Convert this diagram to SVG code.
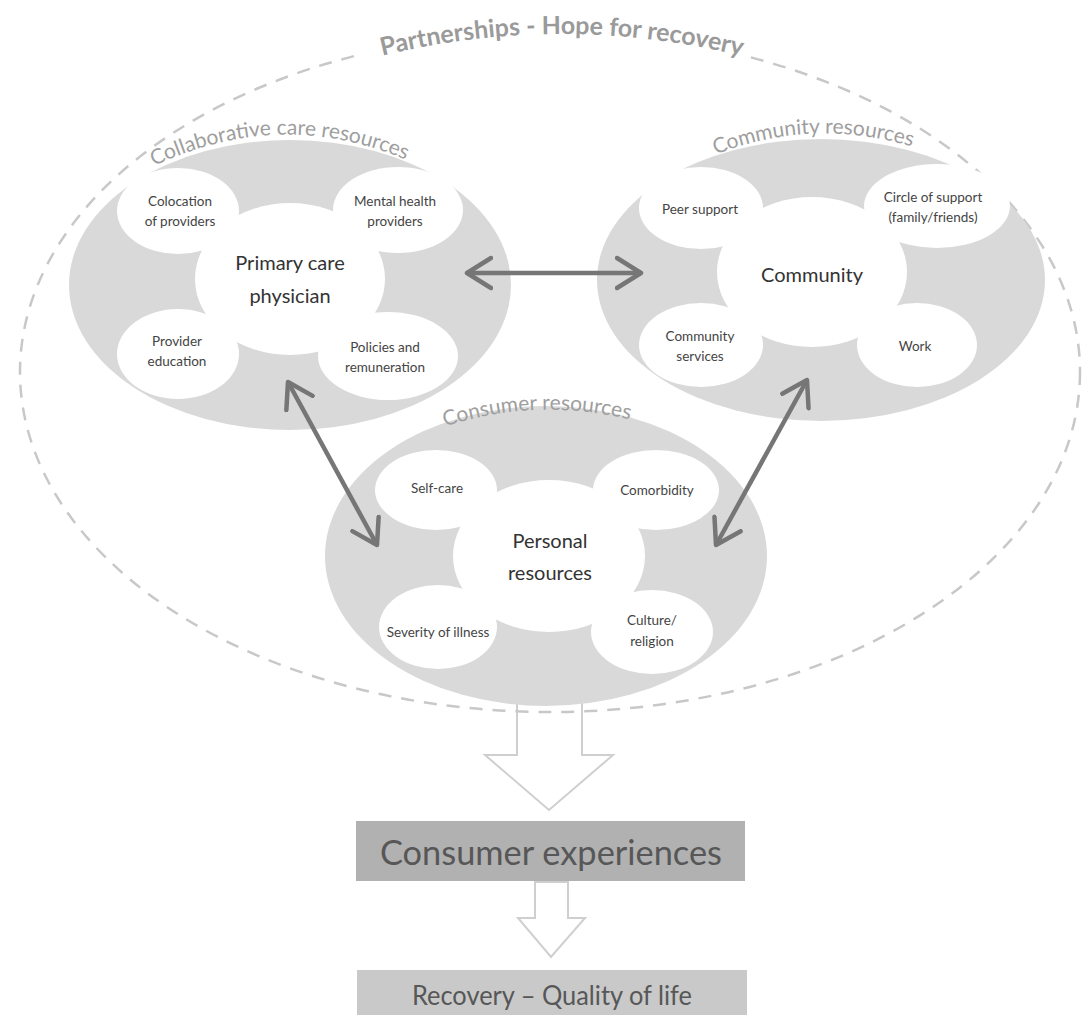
<svg xmlns="http://www.w3.org/2000/svg" width="1082" height="1015" viewBox="0 0 1082 1015">
<style>
.grp{fill:#d9d9d9;}
.wht{fill:#ffffff;}
.sm{font-family:Lato,"Open Sans",sans-serif;font-size:13.5px;fill:#444;text-anchor:middle;}
.ctr{font-family:Lato,"Open Sans",sans-serif;font-size:20px;fill:#333;text-anchor:middle;}
.arc{font-family:Lato,"Open Sans",sans-serif;font-size:21px;fill:#9e9e9e;}
.title{font-family:Lato,"Open Sans",sans-serif;font-size:25px;font-weight:bold;fill:#9a9a9a;}
.conn{stroke:#767676;stroke-width:4.5;fill:none;marker-start:url(#chev);marker-end:url(#chev);}
.block{fill:#ffffff;stroke:#cfcfcf;stroke-width:2;}
.box1{fill:#b1b1b1;}
.box2{fill:#c9c9c9;}
.boxt{font-family:Lato,"Open Sans",sans-serif;fill:#575757;text-anchor:middle;}
</style>
<defs>
<marker id="chev" viewBox="0 0 30 36" refX="26" refY="18" markerWidth="30" markerHeight="36" markerUnits="userSpaceOnUse" orient="auto-start-reverse">
<path d="M2,3 L26,18 L2,33" fill="none" stroke="#767676" stroke-width="4.5" stroke-linejoin="round" stroke-linecap="round"/>
</marker>
<path id="p-title" d="M 366 60 Q 560 8 758 60"/>
<path id="p-collab" d="M 140 173 Q 280 100 420 166"/>
<path id="p-comm" d="M 705 159 Q 810 113 923 150"/>
<path id="p-cons" d="M 435 430 Q 535 394 640 422"/>
</defs>

<rect width="1082" height="1015" fill="#ffffff"/>

<g id="flow-arrows">
<polygon id="arrow-big" class="block" points="517,690 517,755 485,755 549,810 613,755 582,755 582,690"/>
</g>

<g id="partnerships">
<ellipse cx="550" cy="372" rx="530" ry="340" fill="none" stroke="#c8c8c8" stroke-width="2.5" stroke-dasharray="13,10"/>
<rect x="362" y="10" width="402" height="46" fill="#ffffff"/>
<text class="title"><textPath href="#p-title" startOffset="50%" text-anchor="middle">Partnerships - Hope for recovery</textPath></text>
</g>

<g id="collaborative">
<ellipse class="grp" cx="290" cy="285" rx="221" ry="145"/>
<text class="arc"><textPath href="#p-collab" startOffset="50%" text-anchor="middle">Collaborative care resources</textPath></text>
<g id="colocation"><ellipse class="wht" cx="178" cy="211" rx="61" ry="43"/><text class="sm" x="180" y="206">Colocation</text><text class="sm" x="180" y="226">of providers</text></g>
<g id="mental-health"><ellipse class="wht" cx="398" cy="210" rx="65" ry="43"/><text class="sm" x="395" y="206">Mental health</text><text class="sm" x="395" y="226">providers</text></g>
<g id="provider-education"><ellipse class="wht" cx="178" cy="354" rx="61" ry="45"/><text class="sm" x="177" y="346">Provider</text><text class="sm" x="177" y="366">education</text></g>
<g id="policies"><ellipse class="wht" cx="388" cy="356" rx="70" ry="44"/><text class="sm" x="385" y="352">Policies and</text><text class="sm" x="385" y="372">remuneration</text></g>
<g id="primary-care"><ellipse class="wht" cx="290" cy="279" rx="95" ry="76"/><text class="ctr" x="290" y="270">Primary care</text><text class="ctr" x="290" y="303">physician</text></g>
</g>

<g id="community-resources">
<ellipse class="grp" cx="821" cy="280" rx="224" ry="141"/>
<text class="arc"><textPath href="#p-comm" startOffset="50%" text-anchor="middle">Community resources</textPath></text>
<g id="peer-support"><ellipse class="wht" cx="701" cy="208" rx="62" ry="41"/><text class="sm" x="700" y="214">Peer support</text></g>
<g id="circle-support"><ellipse class="wht" cx="937" cy="206" rx="73" ry="42"/><text class="sm" x="933" y="202">Circle of support</text><text class="sm" x="933" y="222">(family/friends)</text></g>
<g id="community-services"><ellipse class="wht" cx="701" cy="345" rx="62" ry="42"/><text class="sm" x="700" y="341">Community</text><text class="sm" x="700" y="361">services</text></g>
<g id="work"><ellipse class="wht" cx="917" cy="345" rx="60" ry="42"/><text class="sm" x="915" y="351">Work</text></g>
<g id="community"><ellipse class="wht" cx="812" cy="272" rx="95" ry="75"/><text class="ctr" x="812" y="282">Community</text></g>
</g>

<g id="consumer-resources">
<ellipse class="grp" cx="546" cy="556" rx="221" ry="150"/>
<text class="arc"><textPath href="#p-cons" startOffset="50%" text-anchor="middle">Consumer resources</textPath></text>
<g id="self-care"><ellipse class="wht" cx="436" cy="490" rx="61" ry="40"/><text class="sm" x="437" y="493">Self-care</text></g>
<g id="comorbidity"><ellipse class="wht" cx="656" cy="490" rx="63" ry="40"/><text class="sm" x="657" y="495">Comorbidity</text></g>
<g id="severity"><ellipse class="wht" cx="438" cy="627" rx="59" ry="42"/><text class="sm" x="438" y="637">Severity of illness</text></g>
<g id="culture"><ellipse class="wht" cx="652" cy="632" rx="61" ry="42"/><text class="sm" x="652" y="625">Culture/</text><text class="sm" x="652" y="646">religion</text></g>
<g id="personal"><ellipse class="wht" cx="549" cy="556" rx="96" ry="76"/><text class="ctr" x="550" y="548">Personal</text><text class="ctr" x="550" y="580">resources</text></g>
</g>

<g id="connectors">
<line class="conn" x1="467" y1="273" x2="641" y2="273"/>
<line class="conn" x1="288" y1="382" x2="377" y2="545"/>
<line class="conn" x1="807" y1="380" x2="716" y2="545"/>
</g>

<g id="consumer-experiences">
<rect class="box1" x="356" y="821" width="389" height="60"/>
<text class="boxt" x="551" y="865" font-size="34" textLength="342" lengthAdjust="spacingAndGlyphs">Consumer experiences</text>
</g>

<g id="flow-arrows-2">
<polygon id="arrow-small" class="block" points="535,882 535,918 518,918 551,957 585,918 568,918 568,882"/>
</g>

<g id="recovery">
<rect class="box2" x="357" y="970" width="390" height="45"/>
<text class="boxt" x="552" y="1005" font-size="27" textLength="280" lengthAdjust="spacingAndGlyphs">Recovery – Quality of life</text>
</g>
</svg>
